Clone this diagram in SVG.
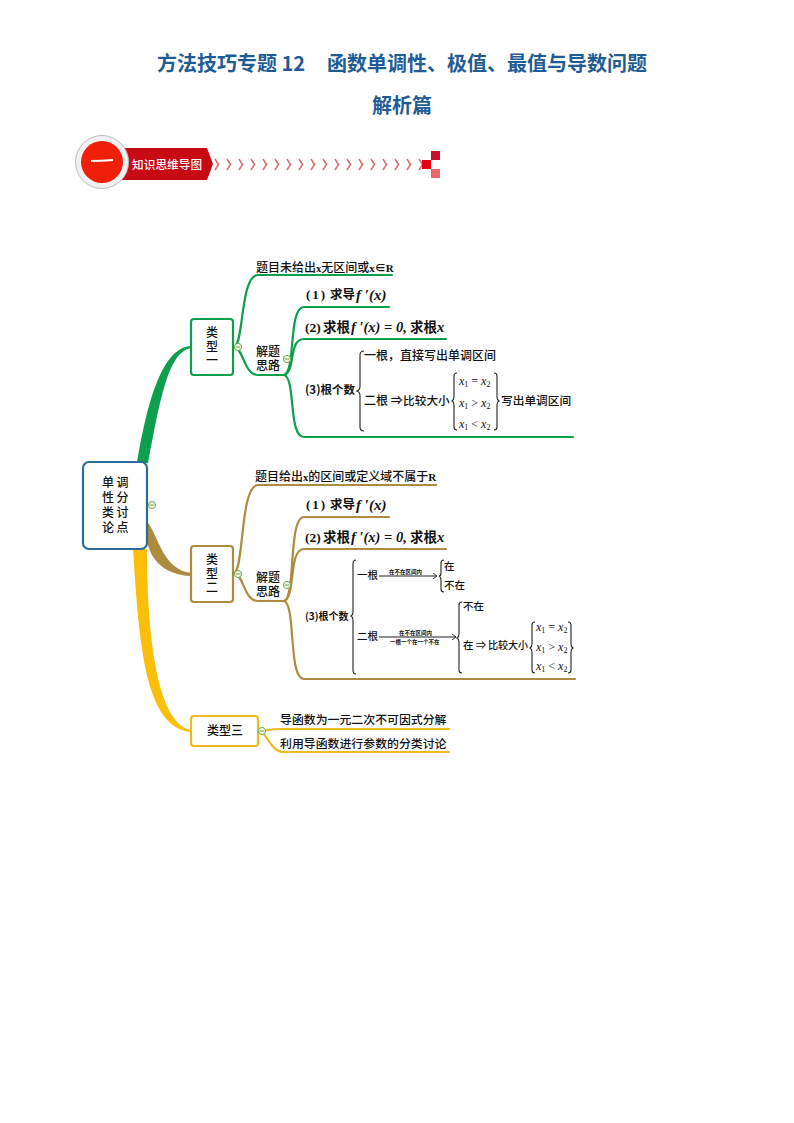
<svg xmlns="http://www.w3.org/2000/svg" width="794" height="1123" viewBox="0 0 794 1123">
<style>
text{font-family:"Noto Sans CJK SC","Liberation Serif",sans-serif;fill:#111;font-weight:500}
.title{font-size:20px;font-weight:700;fill:#1f5c96;font-family:"Noto Sans CJK SC","Liberation Sans",sans-serif}
.m{font-family:"Liberation Serif","Noto Sans CJK SC",serif;font-style:italic;font-weight:700}
.r{font-family:"Liberation Serif","Noto Sans CJK SC",serif;font-weight:700}
.s{font-family:"Liberation Serif","Noto Sans CJK SC",serif;font-style:italic;font-size:12px}
.s tspan{font-size:8px;font-style:normal}
.t{font-family:"Liberation Sans","Noto Sans CJK SC",sans-serif;font-size:12px}
.b{font-weight:700}
.g,.o,.y{fill:none;stroke-width:2.2;stroke-linecap:round}
.g{stroke:#0ca04e}.o{stroke:#ad8b3f}.y{stroke:#eebb1c}
.br{fill:none;stroke:#222;stroke-width:1.1}
.box{fill:#fff;stroke-width:2.2}
.col{fill:#f3f8ea;stroke:#6fa84a;stroke-width:1}
.chev{fill:none;stroke:#dc6a6a;stroke-width:1.5}
</style>
<defs>
<g id="minus"><circle r="3.6" class="col"/><path d="M-2.4 0H2.4" stroke="#6fa84a" stroke-width="1"/></g>
<path id="c" class="chev" d="M0 0l3.5 5.5l-3.5 5.5"/>
<marker id="ah" markerWidth="5" markerHeight="6" refX="4" refY="3" orient="auto"><path d="M0 0L4 3L0 6" fill="none" stroke="#222" stroke-width=".8"/></marker>
</defs>

<g id="heading">
<text class="title" x="157" y="71">方法技巧专题 12</text>
<text class="title" x="327" y="71">函数单调性、极值、最值与导数问题</text>
<text class="title" x="372" y="113">解析篇</text>
</g>

<g id="banner">
<path d="M120 148H207L213 164L207 180H120Z" fill="#c80a14"/>
<circle cx="102" cy="162" r="26.5" fill="#f1f1f1" stroke="#bdbdbd" stroke-width="1"/>
<circle cx="102" cy="162" r="21" fill="#f01f0a"/>
<path d="M91 161Q102 161 113 160" stroke="#fff" stroke-width="2" fill="none"/>
<text x="132" y="169" font-size="11.7" style="fill:#fff">知识思维导图</text>
<g id="chevrons">
<use href="#c" x="215" y="159"/><use href="#c" x="227" y="159"/><use href="#c" x="239" y="159"/><use href="#c" x="251" y="159"/><use href="#c" x="263" y="159"/><use href="#c" x="275" y="159"/><use href="#c" x="287" y="159"/><use href="#c" x="299" y="159"/><use href="#c" x="311" y="159"/><use href="#c" x="323" y="159"/><use href="#c" x="335" y="159"/><use href="#c" x="347" y="159"/><use href="#c" x="359" y="159"/><use href="#c" x="371" y="159"/><use href="#c" x="383" y="159"/><use href="#c" x="395" y="159"/><use href="#c" x="407" y="159"/><use href="#c" x="419" y="159"/>
</g>
<rect x="431" y="151" width="9" height="9" fill="#c8102e"/>
<rect x="422" y="160" width="9" height="9" fill="#e60012"/>
<rect x="431" y="169" width="9" height="9" fill="#f0646e"/>
</g>

<g id="connectors">
<path d="M137 463C146 410 160 349 190 346H191V348C168 352 160 400 148 463Z" fill="#0ca04e"/>
<path d="M148 523C158 535 163 570 191 573V576C165 575 150 560 147 540Z" fill="#ad8b3f"/>
<path d="M133 549C139 640 144 728 191 732V730C158 724 147 640 147 549Z" fill="#fbbf0a"/>

<path class="g" d="M234 347C244 345 240 275 258 275H392"/>
<path class="g" d="M234 347C244 349 244 375 258 375H284"/>
<path class="g" d="M284 375C296 372 288 307 304 307H389"/>
<path class="g" d="M284 375C296 372 288 339 304 339H446"/>
<path class="g" d="M284 375C296 378 288 437 304 437H573"/>

<path class="o" d="M234 573C244 571 240 485 258 485H436"/>
<path class="o" d="M234 573C244 575 244 601 258 601H284"/>
<path class="o" d="M284 601C296 598 288 517 304 517H389"/>
<path class="o" d="M284 601C296 598 288 549 304 549H446"/>
<path class="o" d="M284 601C296 604 288 679 304 679H575"/>

<path class="y" d="M259 731C268 731 266 729 282 729H449"/>
<path class="y" d="M259 731C268 733 270 752 284 752H449"/>
</g>

<g id="root">
<rect x="83" y="462" width="64" height="87" rx="6" class="box" stroke="#2f6b98"/>
<text class="t"><tspan x="102" y="487">单</tspan><tspan x="116.500" y="487">调</tspan><tspan x="102" y="502">性</tspan><tspan x="116.500" y="502">分</tspan><tspan x="102" y="517">类</tspan><tspan x="116.500" y="517">讨</tspan><tspan x="102" y="532">论</tspan><tspan x="116.500" y="532">点</tspan></text>
<use href="#minus" x="152" y="505"/>
</g>

<g id="type1">
<rect x="191" y="319" width="42" height="56" rx="3" class="box" stroke="#0ca04e"/>
<text class="t" text-anchor="middle"><tspan x="212" y="337">类</tspan><tspan x="212" y="351">型</tspan><tspan x="212" y="365">一</tspan></text>
<use href="#minus" x="238" y="347"/>
</g>
<g id="type1-a"><text x="256" y="272" font-size="12">题目未给出<tspan class="r" font-size="10.5">x</tspan>无区间或<tspan class="r" font-size="11">x∈R</tspan></text></g>
<g id="type1-b">
<text class="t"><tspan x="256" y="356">解题</tspan><tspan x="256" y="370">思路</tspan></text>
<use href="#minus" x="287" y="359"/>
</g>
<g id="type1-1"><text x="306" y="299" font-size="13" class="r" letter-spacing="2">(1)</text><text x="330" y="299" font-size="12.500" class="b">求导</text><text x="356" y="300" font-size="15" class="m">f ′(x)</text></g>
<g id="type1-2"><text x="305" y="332" font-size="13.500" class="r">(2)</text><text x="323" y="332" font-size="13.500" class="b">求根</text><text x="351" y="332" font-size="14.500" class="m">f ′(x) = 0,</text><text x="410" y="332" font-size="13.500" class="b">求根</text><text x="437" y="332" font-size="14.500" class="m">x</text></g>
<g id="type1-3">
<text x="305" y="394" font-size="11.500" class="b">(3)根个数</text>
<path class="br" d="M364 351Q360 351 360 355V386Q360 390 357 391Q360 392 360 396V427Q360 431 364 431"/>
<text x="364" y="360" font-size="12">一根，直接写出单调区间</text>
<text x="364" y="405" font-size="12">二根 ⇒</text><text x="403" y="405" font-size="11.700">比较大小</text>
<path class="br" d="M457 373Q454 373 454 376V397Q454 400 452 401Q454 402 454 405V427Q454 430 457 430"/>
<text x="459" y="385" class="s">x<tspan dy="2">1</tspan><tspan dy="-2" style="font-size:12px"> = </tspan>x<tspan dy="2">2</tspan></text>
<text x="459" y="407" class="s">x<tspan dy="2">1</tspan><tspan dy="-2" style="font-size:12px"> &gt; </tspan>x<tspan dy="2">2</tspan></text>
<text x="459" y="428" class="s">x<tspan dy="2">1</tspan><tspan dy="-2" style="font-size:12px"> &lt; </tspan>x<tspan dy="2">2</tspan></text>
<path class="br" d="M494 373Q497 373 497 376V397Q497 400 499 401Q497 402 497 405V427Q497 430 494 430"/>
<text x="501" y="405" font-size="11.700">写出单调区间</text>
</g>

<g id="type2">
<rect x="191" y="546" width="42" height="56" rx="3" class="box" stroke="#ad8b3f"/>
<text class="t" text-anchor="middle"><tspan x="212" y="564">类</tspan><tspan x="212" y="578">型</tspan><tspan x="212" y="592">二</tspan></text>
<use href="#minus" x="238" y="574"/>
</g>
<g id="type2-a"><text x="255" y="481" font-size="12">题目给出<tspan class="r" font-size="10.500">x</tspan>的区间或定义域不属于<tspan class="r" font-size="11" font-weight="400">R</tspan></text></g>
<g id="type2-b">
<text class="t"><tspan x="256" y="582">解题</tspan><tspan x="256" y="596">思路</tspan></text>
<use href="#minus" x="287" y="585"/>
</g>
<g id="type2-1"><text x="306" y="509" font-size="13" class="r" letter-spacing="2">(1)</text><text x="330" y="509" font-size="12.500" class="b">求导</text><text x="356" y="510" font-size="15" class="m">f ′(x)</text></g>
<g id="type2-2"><text x="305" y="542" font-size="13.500" class="r">(2)</text><text x="323" y="542" font-size="13.500" class="b">求根</text><text x="351" y="542" font-size="14.500" class="m">f ′(x) = 0,</text><text x="410" y="542" font-size="13.500" class="b">求根</text><text x="437" y="542" font-size="14.500" class="m">x</text></g>
<g id="type2-3">
<text x="305" y="620" font-size="10" class="b">(3)根个数</text>
<path class="br" d="M356 560Q353 560 353 564V612Q353 615 351 616Q353 617 353 620V670Q353 674 356 674"/>
<text x="357" y="579" font-size="10.500">一根</text>
<path class="br" stroke-width=".8" d="M379 576H437" marker-end="url(#ah)"/>
<text x="389" y="574" font-size="5.500" class="b">在不在区间内</text>
<path class="br" d="M444 560Q441 560 441 563V573Q441 576 439 576Q441 577 441 580V589Q441 592 444 592"/>
<text x="444" y="570" font-size="10.500">在</text><text x="444" y="589" font-size="10.500">不在</text>
<text x="357" y="640" font-size="10.500">二根</text>
<path class="br" stroke-width=".8" d="M379 637H456" marker-end="url(#ah)"/>
<text x="399" y="635" font-size="5.500" class="b">在不在区间内</text>
<text x="390" y="644" font-size="5.500" class="b">一根一个在一个不在</text>
<path class="br" d="M462 602Q459 602 459 605V634Q459 637 457 638Q459 639 459 642V670Q459 673 462 673"/>
<text x="463" y="610" font-size="10.500">不在</text>
<text x="463" y="649" font-size="10.500">在 ⇒</text><text x="488" y="649" font-size="10">比较大小</text>
<path class="br" d="M535 622Q532 622 532 625V644Q532 647 530 648Q532 649 532 652V670Q532 673 535 673"/>
<text x="536" y="631" class="s">x<tspan dy="2">1</tspan><tspan dy="-2" style="font-size:12px"> = </tspan>x<tspan dy="2">2</tspan></text>
<text x="536" y="651" class="s">x<tspan dy="2">1</tspan><tspan dy="-2" style="font-size:12px"> &gt; </tspan>x<tspan dy="2">2</tspan></text>
<text x="536" y="670" class="s">x<tspan dy="2">1</tspan><tspan dy="-2" style="font-size:12px"> &lt; </tspan>x<tspan dy="2">2</tspan></text>
<path class="br" d="M568 622Q571 622 571 625V644Q571 647 573 648Q571 649 571 652V670Q571 673 568 673"/>
</g>

<g id="type3">
<rect x="191" y="716" width="67" height="30" rx="3" class="box" stroke="#eebb1c"/>
<text x="207" y="735" font-size="12">类型三</text>
<use href="#minus" x="262" y="731"/>
</g>
<g id="type3-a"><text x="280" y="724" font-size="11.900">导函数为一元二次不可因式分解</text></g>
<g id="type3-b"><text x="280" y="748" font-size="11.900">利用导函数进行参数的分类讨论</text></g>
</svg>
